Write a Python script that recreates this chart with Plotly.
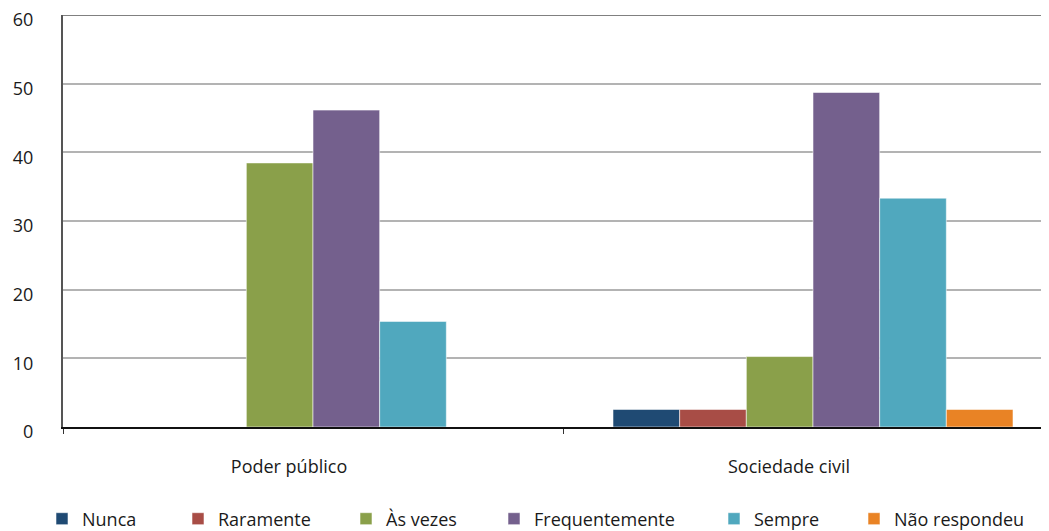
import plotly.graph_objects as go

categories = ["Poder público", "Sociedade civil"]
series_names = ["Nunca", "Raramente", "Às vezes", "Frequentemente", "Sempre", "Não respondeu"]
nunca = [0, 2.56]
raramente = [0, 2.56]
as_vezes = [38.46, 10.26]
frequentemente = [46.15, 48.72]
sempre = [15.38, 33.33]
nao_respondeu = [0, 2.56]
series_values = [nunca, raramente, as_vezes, frequentemente, sempre, nao_respondeu]
y_ticks = [0, 10, 20, 30, 40, 50, 60]

colors = ["#1F4A73", "#A84D46", "#8AA04A", "#74608D", "#50A8BE", "#E98325"]
legend_text_x = [82, 218, 386, 534, 754, 894]

OFF = 8  # page body margin
W, H = 1049 - OFF, 531 - OFF
FONT = "Open Sans"
TXT = "#1a1a1a"

fig = go.Figure()
for i, (name, vals) in enumerate(zip(series_names, series_values)):
    lg = "legend" if i == 0 else f"legend{i+1}"
    fig.add_trace(go.Bar(
        x=categories, y=vals, name=name,
        marker=dict(color=colors[i], line=dict(color="rgba(255,255,255,0.55)", width=1)),
        legend=lg, hoverinfo="x+y+name",
    ))

layout_legends = {}
for i in range(len(series_names)):
    key = "legend" if i == 0 else f"legend{i+1}"
    layout_legends[key] = dict(
        xref="container", yref="container",
        x=(legend_text_x[i] - OFF - 40) / W, xanchor="left",
        y=(H - (519 - OFF)) / H, yanchor="middle",
        orientation="h", bgcolor="rgba(0,0,0,0)",
        font=dict(family=FONT, size=18, color=TXT),
    )

fig.update_layout(
    width=W, height=H,
    margin=dict(l=63 - OFF, r=0, t=15 - OFF, b=H - (427 - OFF), autoexpand=False),
    paper_bgcolor="white", plot_bgcolor="white",
    barmode="group", bargap=0.2, bargroupgap=0,
    font=dict(family=FONT, size=18, color=TXT),
    showlegend=True,
    **layout_legends,
)

fig.update_xaxes(
    range=[-0.5, 1.472],
    showline=True, linecolor="#111111", linewidth=2,
    ticks="outside", tickson="boundaries", ticklen=5, tickcolor="#333333", tickwidth=1,
    ticklabelstandoff=22, ticklabelshift=-24,
    tickfont=dict(family=FONT, size=18, color=TXT),
    showgrid=False, zeroline=False, fixedrange=True,
)
fig.update_yaxes(
    range=[0, 60], tickvals=y_ticks,
    showline=True, linecolor="#555555", linewidth=2,
    showgrid=True, gridcolor="#B3B3B3", gridwidth=1.5,
    zeroline=False, ticks="",
    ticklabelstandoff=24, ticklabelshift=5, ticklabeloverflow="allow",
    tickfont=dict(family=FONT, size=18, color=TXT),
    fixedrange=True,
)

fig.add_shape(type="line", xref="paper", yref="y", x0=0, x1=1, y0=60, y1=60,
              line=dict(color="#808080", width=2), layer="above")

fig.write_html("out.html")
